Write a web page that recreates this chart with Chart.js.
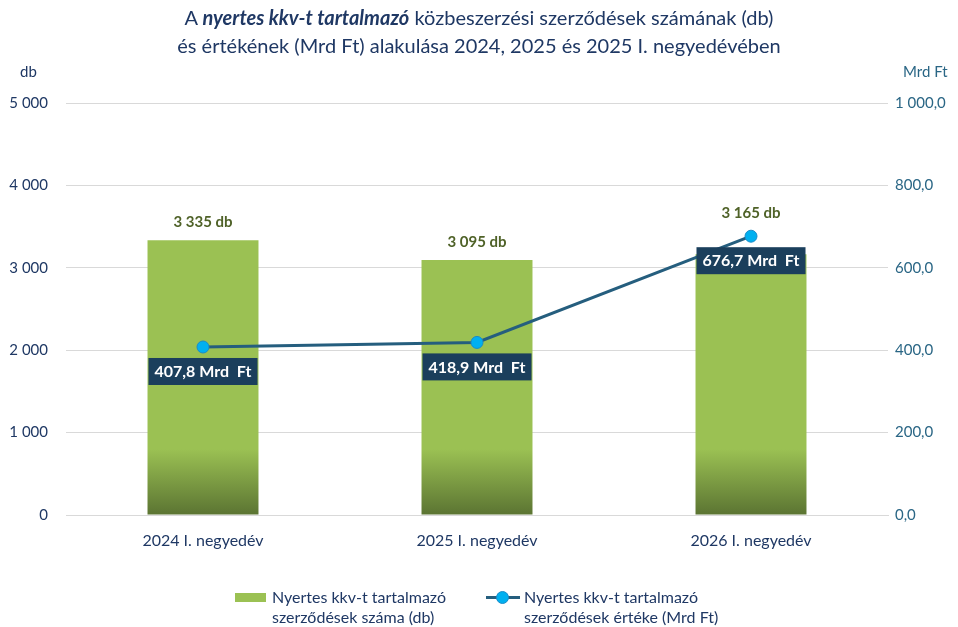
<!DOCTYPE html>
<html>
<head>
<meta charset="utf-8">
<script src="https://cdn.jsdelivr.net/npm/chart.js@4/dist/chart.umd.min.js"></script>
<style>
    body { margin: 0; background: #fff; font-family: Lato, "Noto Sans", sans-serif; }
    #wrap { position: relative; width: 958px; height: 627px; overflow: hidden; }
    #chart { position: absolute; left: 0; top: 0; }
    #title { position: absolute; left: 0; top: 3px; width: 958px; text-align: center; color: #1F3864; font-size: 20px; line-height: 28px; }
    #title b { font-style: italic; }
    .axisTitle { position: absolute; top: 62px; font-size: 15px; }
    #legend { position: absolute; top: 587px; left: 0; width: 958px; font-size: 16px; color: #1F3864; line-height: 20px; }
    .item { position: absolute; top: 0; }
</style>
</head>
<body>
<div id="wrap">
    <canvas id="chart" width="958" height="627"></canvas>
    <div id="title">A <b>nyertes kkv-t tartalmazó</b> közbeszerzési szerződések számának (db)<br>és értékének (Mrd Ft) alakulása 2024, 2025 és 2025 I. negyedévében</div>
    <div class="axisTitle" style="left:20px;color:#1F3864">db</div>
    <div class="axisTitle" style="left:903px;color:#2A6685">Mrd Ft</div>
    <div id="legend">
        <div class="item" style="left:235px">
            <span style="position:absolute;left:0;top:6px;width:31px;height:9px;background:#9BC153"></span>
            <div style="margin-left:37px;white-space:nowrap">Nyertes kkv-t tartalmazó<br>szerződések száma (db)</div>
        </div>
        <div class="item" style="left:486px">
            <span style="position:absolute;left:0;top:9px;width:34px;height:3px;background:#255E7E"></span>
            <span style="position:absolute;left:10px;top:4px;width:11px;height:11px;border-radius:50%;background:#00B0F0;border:1px solid #1A8CC8"></span>
            <div style="margin-left:38px;white-space:nowrap">Nyertes kkv-t tartalmazó<br>szerződések értéke (Mrd Ft)</div>
        </div>
    </div>
</div>
<script>
const categories = ['2024 I. negyedév', '2025 I. negyedév', '2026 I. negyedév'];
const contractCounts = [3335, 3095, 3165];
const contractValues = [407.8, 418.9, 676.7];

const navy = '#1F3864';
const teal = '#2A6685';
const fontFamily = 'Lato, "Noto Sans", sans-serif';

function fmtCount(v) {
    return String(v).replace(/\B(?=(\d{3})+(?!\d))/g, ' ');
}
function fmtValue(v) {
    const parts = v.toFixed(1).split('.');
    return parts[0].replace(/\B(?=(\d{3})+(?!\d))/g, ' ') + ',' + parts[1];
}

// labels above bars and dark boxes below the line points
const labelPlugin = {
    id: 'labels',
    afterDatasetsDraw(chart) {
        const ctx = chart.ctx;
        const barMeta = chart.getDatasetMeta(1);
        const lineMeta = chart.getDatasetMeta(0);
        ctx.save();
        ctx.textAlign = 'center';
        ctx.textBaseline = 'middle';

        ctx.font = 'bold 15px ' + fontFamily;
        ctx.fillStyle = '#4F6228';
        barMeta.data.forEach((bar, i) => {
            const lift = i === 2 ? 41 : 18;
            ctx.fillText(fmtCount(contractCounts[i]) + ' db', bar.x, bar.y - lift);
        });

        ctx.font = 'bold 16px ' + fontFamily;
        lineMeta.data.forEach((pt, i) => {
            const txt = fmtValue(contractValues[i]) + ' Mrd  Ft';
            const w = ctx.measureText(txt).width + 12;
            const top = pt.y + 11;
            ctx.fillStyle = '#1B3F5C';
            ctx.fillRect(pt.x - w / 2, top, w, 27);
            ctx.fillStyle = '#fff';
            ctx.fillText(txt, pt.x, top + 14);
        });
        ctx.restore();
    }
};

const ctx = document.getElementById('chart').getContext('2d');
const chart = new Chart(ctx, {
    data: {
        labels: categories,
        datasets: [{
            type: 'line',
            label: 'Nyertes kkv-t tartalmazó szerződések értéke (Mrd Ft)',
            data: contractValues,
            yAxisID: 'y1',
            borderColor: '#255E7E',
            borderWidth: 3,
            pointRadius: 6,
            pointHoverRadius: 6,
            pointBackgroundColor: '#00B0F0',
            pointBorderColor: '#1A8CC8',
            pointBorderWidth: 1,
            order: 0
        }, {
            type: 'bar',
            label: 'Nyertes kkv-t tartalmazó szerződések száma (db)',
            data: contractCounts,
            yAxisID: 'y',
            barPercentage: 0.81,
            categoryPercentage: 0.5,
            backgroundColor: (c) => {
                const area = c.chart.chartArea;
                if (!area) return '#9BC153';
                const g = c.chart.ctx.createLinearGradient(0, area.bottom, 0, area.top);
                g.addColorStop(0, '#5B7432');
                g.addColorStop(0.16, '#9BC153');
                g.addColorStop(1, '#9BC153');
                return g;
            },
            order: 1
        }]
    },
    options: {
        responsive: false,
        animation: false,
        layout: { padding: { top: 103, left: 0, right: 0, bottom: 0 } },
        plugins: {
            legend: { display: false },
            tooltip: { enabled: false }
        },
        scales: {
            x: {
                grid: { display: false, drawTicks: false },
                border: { color: '#D9D9D9' },
                ticks: { color: navy, font: { size: 16, family: fontFamily }, padding: 16 },
                afterFit: (s) => { s.height = 112; }
            },
            y: {
                position: 'left',
                min: 0,
                max: 5000,
                ticks: {
                    stepSize: 1000,
                    color: navy,
                    padding: 18,
                    font: { size: 15, family: fontFamily },
                    callback: (v) => fmtCount(v)
                },
                grid: { color: '#D9D9D9', drawTicks: false, lineWidth: 1 },
                border: { display: false },
                afterFit: (s) => { s.width = 66; }
            },
            y1: {
                position: 'right',
                min: 0,
                max: 1000,
                ticks: {
                    stepSize: 200,
                    color: teal,
                    padding: 7,
                    font: { size: 15, family: fontFamily },
                    callback: (v) => fmtValue(v)
                },
                grid: { display: false, drawTicks: false },
                border: { display: false },
                afterFit: (s) => { s.width = 70; }
            }
        }
    },
    plugins: [labelPlugin]
});
</script>
</body>
</html>
